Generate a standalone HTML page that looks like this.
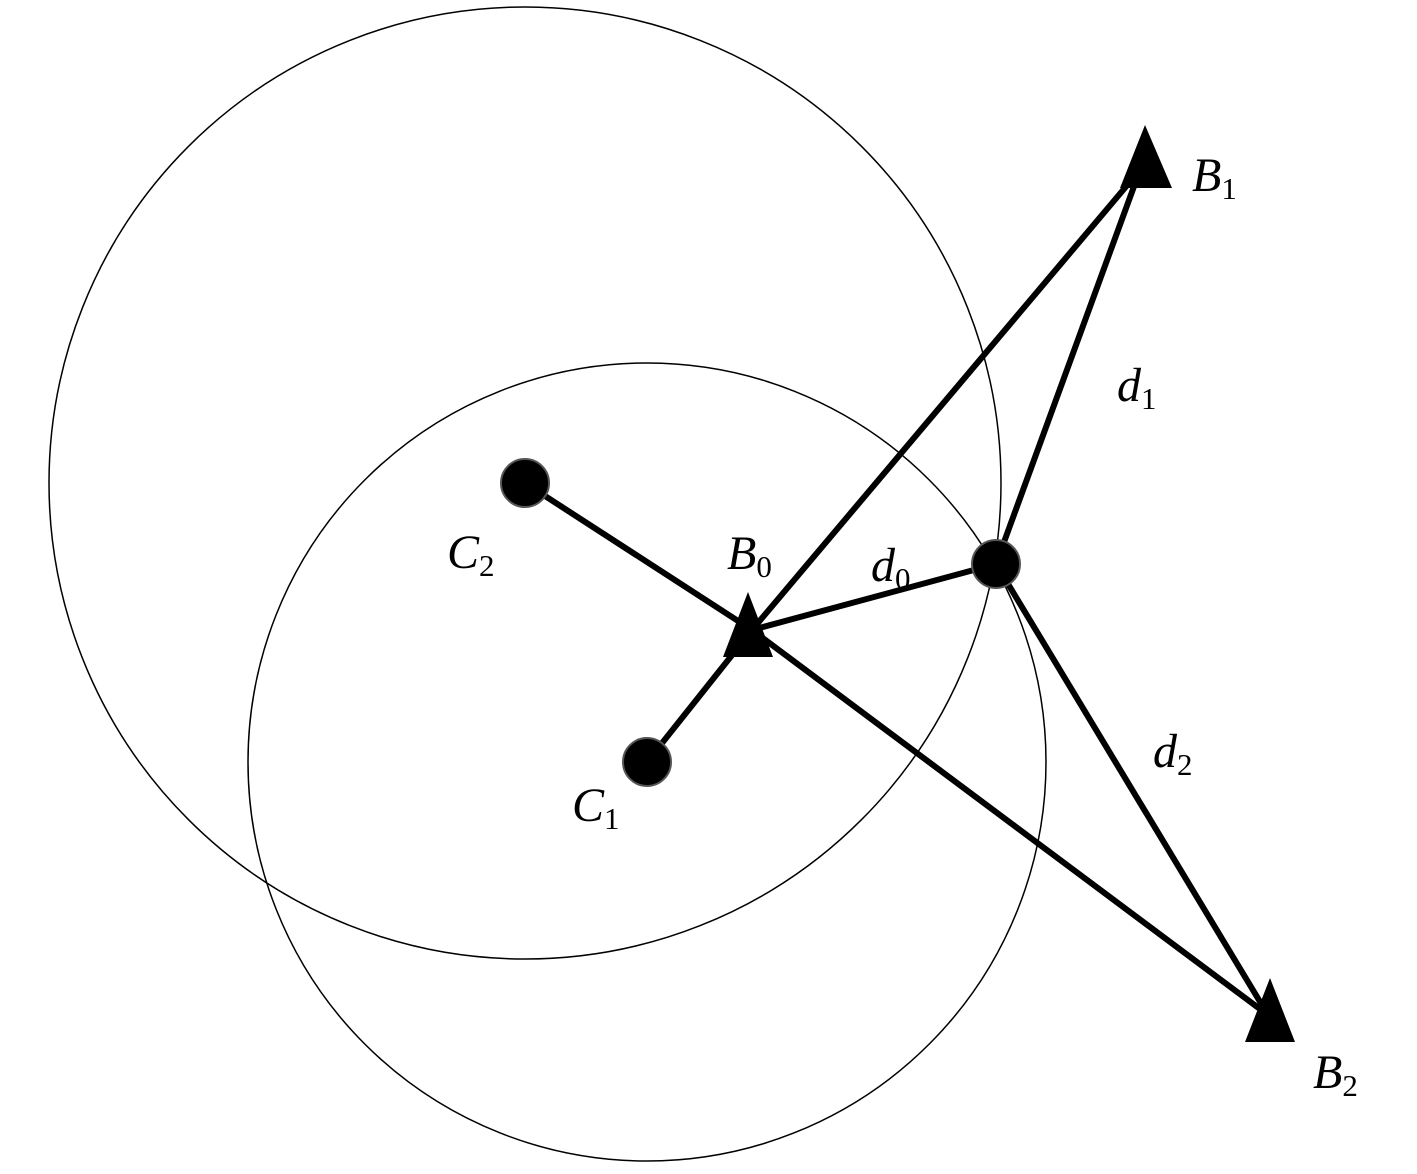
<!DOCTYPE html>
<html><head><style>html,body{margin:0;padding:0;background:#fff}</style></head><body>
<svg width="1417" height="1169" viewBox="0 0 1417 1169" xmlns="http://www.w3.org/2000/svg">
<rect width="1417" height="1169" fill="#fff"/>
<circle cx="525" cy="483" r="476" fill="none" stroke="#000" stroke-width="1.5"/>
<circle cx="647" cy="762" r="399" fill="none" stroke="#000" stroke-width="1.5"/>
<g stroke="#000" stroke-width="6" stroke-linecap="round" fill="none">
<line x1="525" y1="483" x2="752" y2="630"/>
<line x1="752" y1="630" x2="1268" y2="1015"/>
<line x1="647" y1="762" x2="752" y2="630"/>
<line x1="752" y1="630" x2="1140" y2="170"/>
<line x1="752" y1="630" x2="996" y2="564"/>
<line x1="996" y1="564" x2="1140" y2="170"/>
<line x1="996" y1="564" x2="1268" y2="1015"/>
</g>
<g fill="#000" stroke="#555" stroke-width="2">
<circle cx="525" cy="483" r="24"/>
<circle cx="647" cy="762" r="24"/>
<circle cx="996" cy="564" r="24"/>
</g>
<g fill="#000">
<polygon points="748,592 723,657 773,657"/>
<polygon points="1145,125 1120,188 1172,188"/>
<polygon points="1270,978 1245,1042 1295,1042"/>
</g>
<g font-family="Liberation Serif, serif" font-style="italic" font-size="48" fill="#000">
<text x="1192" y="191">B<tspan font-style="normal" font-size="31" dy="8">1</tspan></text>
<text x="1117" y="401">d<tspan font-style="normal" font-size="31" dy="8">1</tspan></text>
<text x="447" y="568">C<tspan font-style="normal" font-size="31" dy="8">2</tspan></text>
<text x="727" y="569">B<tspan font-style="normal" font-size="31" dy="8">0</tspan></text>
<text x="871" y="581">d<tspan font-style="normal" font-size="31" dy="8">0</tspan></text>
<text x="1153" y="767">d<tspan font-style="normal" font-size="31" dy="8">2</tspan></text>
<text x="572" y="821">C<tspan font-style="normal" font-size="31" dy="8">1</tspan></text>
<text x="1313" y="1088">B<tspan font-style="normal" font-size="31" dy="8">2</tspan></text>
</g>
</svg>
</body></html>
